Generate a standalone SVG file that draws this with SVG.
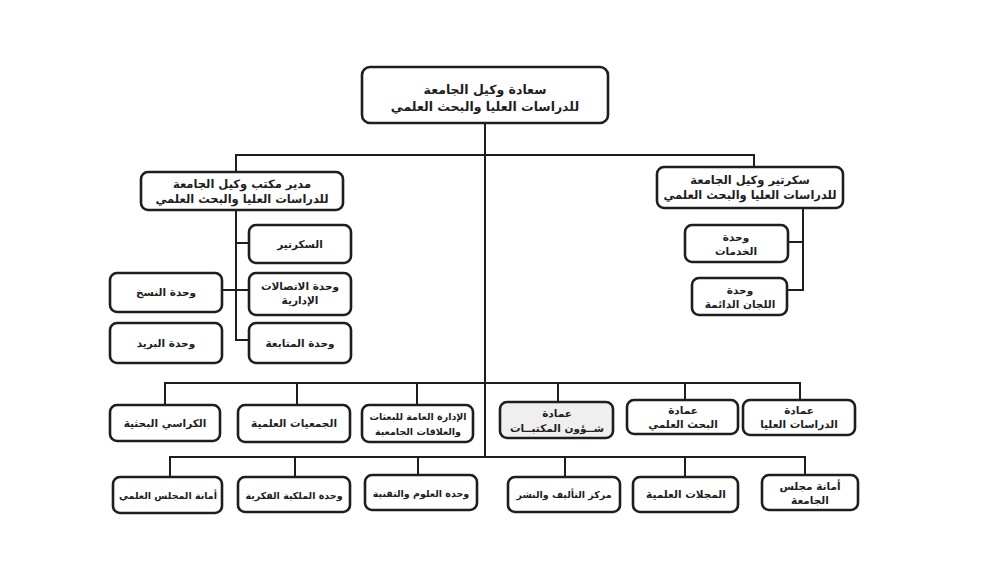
<svg xmlns="http://www.w3.org/2000/svg" width="1000" height="563" viewBox="0 0 1000 563">
<style>
.box{fill:#fff;stroke:#1e1e1e;stroke-width:2.6}
.gray{fill:#efefef}
.t{font-family:"DejaVu Sans",sans-serif;font-weight:bold;font-size:10.5px;fill:#1e1e1e;text-anchor:middle;dominant-baseline:central}
.big{font-size:12.5px}
.mid{font-size:11.5px}
.sm{font-size:9.5px}
.c{fill:none;stroke:#1e1e1e;stroke-width:2}
</style>
<rect width="1000" height="563" fill="#fff"/>
<g id="connectors">
<path class="c" d="M485 123V457"/>
<path class="c" d="M236 172V155H754V167"/>
<path class="c" d="M236 210V340H249M236 243H249M236 290H249M222 290H236"/>
<path class="c" d="M803 208V290H787M803 242H788"/>
<path class="c" d="M165 405V383H800V400M297 383V405M417 383V405M558 383V402M685 383V400"/>
<path class="c" d="M170 477V457H805V475M295 457V477M418 457V475M565 457V477M685 457V477"/>
</g>
<g id="n-top"><rect class="box" x="362" y="67" width="246" height="56" rx="8"/>
<text class="t big" x="485" y="89">سعادة وكيل الجامعة</text><text class="t big" x="485" y="106">للدراسات العليا والبحث العلمي</text></g>
<g id="n-manager"><rect class="box" x="141" y="172" width="202" height="38" rx="7"/>
<text class="t mid" x="242" y="184">مدير مكتب وكيل الجامعة</text><text class="t mid" x="242" y="199">للدراسات العليا والبحث العلمي</text></g>
<g id="n-secretary"><rect class="box" x="657" y="167" width="186" height="41" rx="7"/>
<text class="t mid" x="750" y="180">سكرتير وكيل الجامعة</text><text class="t mid" x="750" y="195">للدراسات العليا والبحث العلمي</text></g>
<g id="n-sec"><rect class="box" x="249" y="225" width="102" height="38" rx="7"/><text class="t" x="300" y="244">السكرتير</text></g>
<g id="n-comm"><rect class="box" x="249" y="273" width="102" height="42" rx="7"/><text class="t" x="300" y="286">وحدة الاتصالات</text><text class="t" x="300" y="300">الإدارية</text></g>
<g id="n-follow"><rect class="box" x="249" y="323" width="102" height="40" rx="7"/><text class="t" x="300" y="343">وحدة المتابعة</text></g>
<g id="n-copy"><rect class="box" x="110" y="273" width="112" height="39" rx="7"/><text class="t" x="166" y="292">وحدة النسخ</text></g>
<g id="n-mail"><rect class="box" x="110" y="323" width="112" height="40" rx="7"/><text class="t" x="166" y="343">وحدة البريد</text></g>
<g id="n-services"><rect class="box" x="685" y="225" width="103" height="37" rx="7"/><text class="t" x="736" y="237">وحدة</text><text class="t" x="736" y="251">الخدمات</text></g>
<g id="n-committees"><rect class="box" x="692" y="278" width="95" height="37" rx="7"/><text class="t" x="740" y="290">وحدة</text><text class="t" x="740" y="304">اللجان الدائمة</text></g>
<g id="n-chairs"><rect class="box" x="110" y="405" width="110" height="36" rx="7"/><text class="t" x="165" y="423">الكراسي البحثية</text></g>
<g id="n-societies"><rect class="box" x="238" y="405" width="112" height="37" rx="7"/><text class="t" x="294" y="423">الجمعيات العلمية</text></g>
<g id="n-missions"><rect class="box" x="362" y="405" width="111" height="37" rx="7"/><text class="t sm" x="418" y="416">الإدارة العامة للبعثات</text><text class="t sm" x="418" y="431">والعلاقات الجامعية</text></g>
<g id="n-library"><rect class="box gray" x="500" y="402" width="113" height="36" rx="7"/><text class="t" x="557" y="413">عمادة</text><text class="t" x="557" y="428">شــؤون  المكتبــات</text></g>
<g id="n-research"><rect class="box" x="627" y="400" width="111" height="34" rx="7"/><text class="t" x="683" y="410">عمادة</text><text class="t" x="683" y="424">البحث العلمي</text></g>
<g id="n-graduate"><rect class="box" x="743" y="400" width="112" height="35" rx="7"/><text class="t" x="799" y="410">عمادة</text><text class="t" x="799" y="424">الدراسات العليا</text></g>
<g id="n-council"><rect class="box" x="113" y="477" width="109" height="36" rx="7"/><text class="t sm" x="168" y="495">أمانة المجلس العلمي</text></g>
<g id="n-ip"><rect class="box" x="238" y="477" width="112" height="35" rx="7"/><text class="t sm" x="294" y="495">وحدة الملكية الفكرية</text></g>
<g id="n-science"><rect class="box" x="365" y="475" width="112" height="35" rx="7"/><text class="t sm" x="421" y="493">وحدة العلوم والتقنية</text></g>
<g id="n-publish"><rect class="box" x="508" y="477" width="112" height="35" rx="7"/><text class="t sm" x="564" y="494">مركز التأليف والنشر</text></g>
<g id="n-journals"><rect class="box" x="633" y="477" width="105" height="35" rx="7"/><text class="t" x="686" y="494">المجلات العلمية</text></g>
<g id="n-univcouncil"><rect class="box" x="762" y="475" width="96" height="35" rx="7"/><text class="t" x="810" y="486">أمانة مجلس</text><text class="t" x="810" y="500">الجامعة</text></g>
</svg>
